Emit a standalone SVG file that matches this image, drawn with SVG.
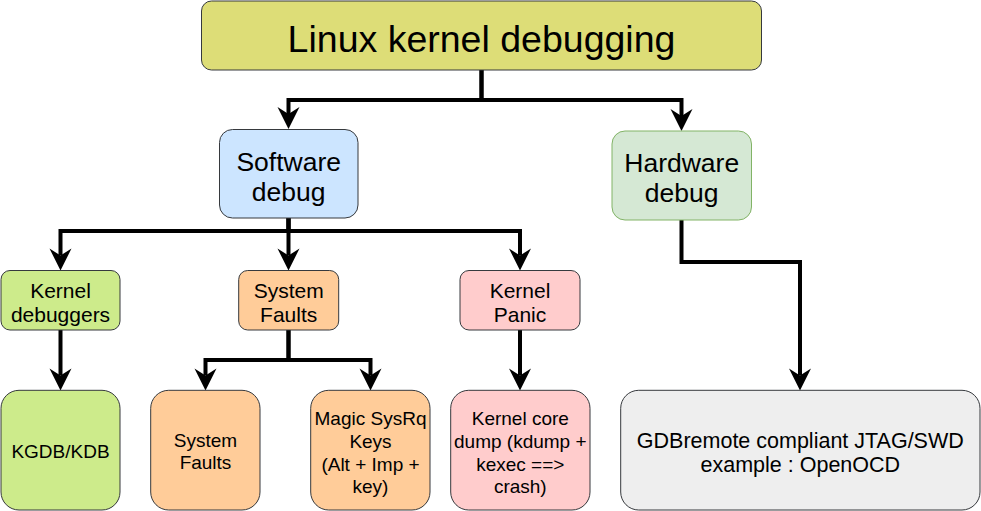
<svg xmlns="http://www.w3.org/2000/svg" width="981" height="511" viewBox="0 0 981 511">
<style>
.box{stroke:#36393d;stroke-width:1}
.t{font-family:"Liberation Sans",Arial,sans-serif;fill:#000;text-anchor:middle}
.t37{font-size:37.5px}
.t26{font-size:26.5px}
.t21{font-size:21px}
.tg{font-size:21.5px}
.t19{font-size:19px}
.conn{fill:none;stroke:#000;stroke-width:4;stroke-linejoin:miter;marker-end:url(#arr)}
</style>
<defs>
<marker id="arr" markerUnits="userSpaceOnUse" viewBox="-8 -12 24 24" markerWidth="24" markerHeight="24" refX="0" refY="0" orient="auto">
<path d="M15,0 L-7,-11 L0,0 L-7,11 Z" fill="#000"/>
</marker>
</defs>
<rect width="981" height="511" fill="#fff"/>
<g id="connectors">
<path class="conn" d="M481.5,70 V100 H288.5 V114"/>
<path class="conn" d="M481.5,70 V100 H681.5 V116"/>
<path class="conn" d="M288.5,218 V231 H60.5 V255.5"/>
<path class="conn" d="M288.5,218 V255.5"/>
<path class="conn" d="M288.5,218 V231 H520 V255.5"/>
<path class="conn" d="M60.5,330 V375.5"/>
<path class="conn" d="M288.5,330 V360 H205.5 V375.5"/>
<path class="conn" d="M288.5,330 V360 H370.5 V375.5"/>
<path class="conn" d="M520,330 V375.5"/>
<path class="conn" d="M681.5,220 V262 H800 V375.5"/>
</g>
<g id="linux-kernel-debugging">
<rect class="box" x="201.5" y="1" width="560" height="69" rx="10" fill="#dddd77"/>
<text class="t t37" x="481.5" y="52">Linux kernel debugging</text>
</g>
<g id="software-debug">
<rect class="box" x="219.5" y="129.5" width="138.5" height="88.5" rx="13" fill="#cce5ff"/>
<text class="t t26" x="288.7" y="170.5">Software</text>
<text class="t t26" x="288.7" y="200.5">debug</text>
</g>
<g id="hardware-debug">
<rect x="612" y="131" width="139.5" height="89" rx="13" fill="#d5e8d4" stroke="#82b366" stroke-width="1"/>
<text class="t t26" x="681.7" y="172">Hardware</text>
<text class="t t26" x="681.7" y="201.5">debug</text>
</g>
<g id="kernel-debuggers">
<rect class="box" x="1" y="270.5" width="119" height="59.5" rx="9" fill="#cdeb8b"/>
<text class="t t21" x="60.5" y="297.5">Kernel</text>
<text class="t t21" x="60.5" y="321.5">debuggers</text>
</g>
<g id="system-faults">
<rect class="box" x="238.7" y="270.5" width="100" height="59.5" rx="9" fill="#ffcc99"/>
<text class="t t21" x="288.7" y="297.5">System</text>
<text class="t t21" x="288.7" y="321.5">Faults</text>
</g>
<g id="kernel-panic">
<rect class="box" x="460" y="270.5" width="120" height="59.5" rx="9" fill="#ffcccc"/>
<text class="t t21" x="520" y="297.5">Kernel</text>
<text class="t t21" x="520" y="321.5">Panic</text>
</g>
<g id="kgdb-kdb">
<rect class="box" x="1" y="390.3" width="119" height="119.7" rx="18" fill="#cdeb8b"/>
<text class="t t19" x="60.5" y="457.5">KGDB/KDB</text>
</g>
<g id="system-faults-2">
<rect class="box" x="150.7" y="390.3" width="109.3" height="119.7" rx="18" fill="#ffcc99"/>
<text class="t t19" x="205.5" y="446.7">System</text>
<text class="t t19" x="205.5" y="469.2">Faults</text>
</g>
<g id="magic-sysrq">
<rect class="box" x="310.7" y="390.3" width="119.3" height="119.7" rx="18" fill="#ffcc99"/>
<text class="t t19" x="370.5" y="425">Magic SysRq</text>
<text class="t t19" x="370.5" y="447.7">Keys</text>
<text class="t t19" x="370.5" y="470.5">(Alt + Imp +</text>
<text class="t t19" x="370.5" y="492.7">key)</text>
</g>
<g id="kernel-core-dump">
<rect class="box" x="450.7" y="390.3" width="139.3" height="119.7" rx="18" fill="#ffcccc"/>
<text class="t t19" x="520.3" y="425">Kernel core</text>
<text class="t t19" x="520.3" y="447.7">dump (kdump +</text>
<text class="t t19" x="520.3" y="470.5">kexec ==&gt;</text>
<text class="t t19" x="520.3" y="492.7">crash)</text>
</g>
<g id="gdbremote">
<rect class="box" x="620.7" y="390.3" width="359.3" height="119.7" rx="18" fill="#eeeeee"/>
<text class="t tg" x="800.3" y="447.7">GDBremote compliant JTAG/SWD</text>
<text class="t tg" x="800.3" y="471.7">example : OpenOCD</text>
</g>
</svg>
